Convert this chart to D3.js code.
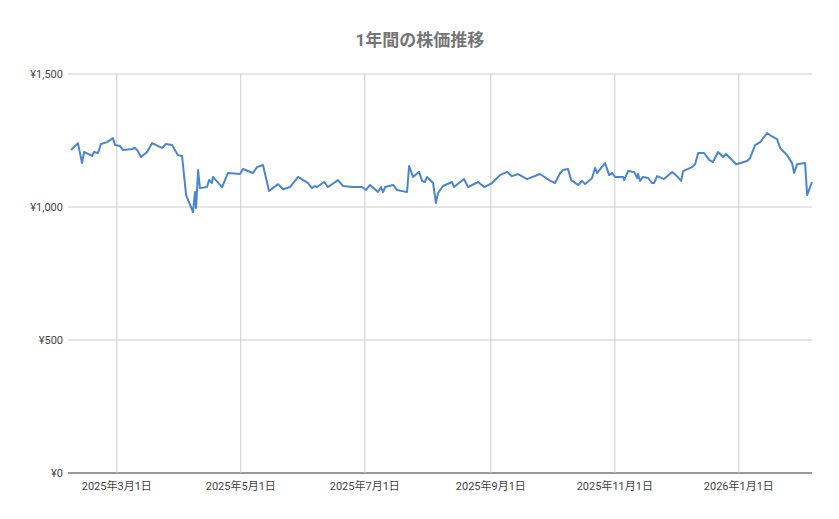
<!DOCTYPE html>
<html>
<head>
<meta charset="utf-8">
<script src="https://cdn.jsdelivr.net/npm/d3@7"></script>
<style>
  body { margin: 0; background: #fff; }
  text { font-family: Roboto, "Noto Sans CJK JP", sans-serif; }
</style>
</head>
<body>
<svg id="chart" width="839" height="519"></svg>
<script>
// days since 2025-02-05
var dayOffsets = [1.5, 4.9, 6.9, 7.9, 11.8, 12.8, 14.8, 16.2, 19.2, 22.1, 23.1, 25.6, 27.1, 31.5, 33, 34.4, 35.9, 38.9, 41.3, 46.2,
    48.2, 51.2, 54.1, 56.1, 58.1, 61.5, 62.5, 63, 64, 64.9, 68.4, 69.4, 70.8, 71.3, 75.8, 78.7, 84.6, 86.1, 91, 93,
    95.9, 98.9, 103.3, 105.8, 109.2, 113.2, 118.1, 120, 121.5, 122.5, 126, 127.9, 132.8, 135.3, 140.2, 144.6, 146.6, 148.6, 152.5, 154,
    155, 156, 159.9, 161.9, 166.8, 167.8, 169.7, 172.7, 174.2, 175.6, 176.6, 179.6, 181, 182, 184.5, 188.9, 189.9, 194.8, 196.8, 201.7,
    204.7, 208.6, 212.5, 216, 218.4, 221.4, 225.8, 232.2, 236.7, 239.6, 242.1, 243.5, 246, 247.5, 250.9, 252.9, 254.4, 257.8, 259.3, 260.3,
    264.2, 266.2, 267.6, 269.1, 273.1, 273.6, 275.5, 278.5, 280, 280.4, 281.4, 282.9, 285.4, 287.3, 288.3, 289.8, 293.2, 297.2, 299.6, 301.6,
    302.6, 307, 308.5, 310, 312.9, 315.4, 317.3, 319.8, 322.3, 323.7, 328.7, 334.1, 335.5, 338, 340.5, 343.9, 345.9, 348.8, 350.3, 353.7,
    356.2, 357.2, 358.7, 362.6, 363.6, 366];
var prices = [1214, 1240, 1165, 1207, 1192, 1207, 1203, 1237, 1244, 1259, 1233, 1229, 1214, 1218, 1222, 1210, 1188, 1207, 1240, 1222,
    1237, 1233, 1195, 1192, 1045, 981, 1056, 996, 1139, 1071, 1075, 1101, 1090, 1113, 1075, 1128, 1124, 1143, 1128, 1150,
    1158, 1060, 1086, 1067, 1075, 1113, 1090, 1071, 1079, 1075, 1094, 1075, 1101, 1079, 1075, 1075, 1064, 1083, 1056, 1075,
    1056, 1075, 1083, 1064, 1056, 1154, 1113, 1132, 1098, 1094, 1113, 1090, 1015, 1052, 1079, 1094, 1075, 1105, 1075, 1094,
    1075, 1090, 1120, 1132, 1116, 1124, 1105, 1124, 1101, 1090, 1128, 1139, 1143, 1101, 1083, 1098, 1086, 1109, 1147, 1128,
    1165, 1120, 1128, 1113, 1113, 1101, 1135, 1132, 1109, 1124, 1098, 1113, 1109, 1090, 1090, 1116, 1105, 1132, 1116, 1098,
    1135, 1150, 1161, 1203, 1203, 1177, 1169, 1207, 1188, 1199, 1161, 1173, 1184, 1233, 1244, 1278, 1267, 1255, 1222, 1195,
    1165, 1128, 1161, 1165, 1045, 1094];
var yTicks = [0, 500, 1000, 1500];
var xTickDates = ["2025-03-01", "2025-05-01", "2025-07-01", "2025-09-01", "2025-11-01", "2026-01-01"];
var chartTitle = "1年間の株価推移";

var startDate = new Date(2025, 1, 5);
var data = dayOffsets.map(function(d, i) {
    return { date: d3.timeDay.offset(startDate, 0) .getTime() + d * 864e5, value: prices[i] };
});

var svg = d3.select("#chart");
var margin = { left: 68, right: 812, top: 74, bottom: 473 };

var x = d3.scaleTime()
    .domain([startDate, d3.timeDay.offset(startDate, 366)])
    .range([margin.left, margin.right]);
var y = d3.scaleLinear().domain([0, 1500]).range([margin.bottom, margin.top]);

svg.append("text")
    .attr("x", 420).attr("y", 46)
    .attr("text-anchor", "middle")
    .attr("font-size", 17).attr("font-weight", "bold")
    .attr("fill", "#757575")
    .text(chartTitle);

var xTicks = xTickDates.map(function(s) { return d3.timeParse("%Y-%m-%d")(s); });

// grid
svg.append("g").selectAll("line").data(yTicks).enter().append("line")
    .attr("x1", margin.left).attr("x2", margin.right)
    .attr("y1", function(d) { return y(d); }).attr("y2", function(d) { return y(d); })
    .attr("stroke", function(d) { return d === 0 ? "#333" : "#cccccc"; })
    .attr("stroke-width", 1);
svg.append("g").selectAll("line").data(xTicks).enter().append("line")
    .attr("x1", function(d) { return x(d); }).attr("x2", function(d) { return x(d); })
    .attr("y1", margin.top).attr("y2", margin.bottom)
    .attr("stroke", "#cccccc");

// axis labels
svg.append("g").selectAll("text").data(yTicks).enter().append("text")
    .attr("x", 63).attr("y", function(d) { return y(d) + 4; })
    .attr("text-anchor", "end").attr("font-size", 11).attr("fill", "#444")
    .text(function(d) { return "¥" + d3.format(",")(d); });
svg.append("g").selectAll("text").data(xTicks).enter().append("text")
    .attr("x", function(d) { return x(d); }).attr("y", 490)
    .attr("text-anchor", "middle").attr("font-size", 11).attr("fill", "#444")
    .text(function(d) { return d3.timeFormat("%Y年%-m月%-d日")(d); });

svg.append("path")
    .datum(data)
    .attr("fill", "none")
    .attr("stroke", "#4a86d0")
    .attr("stroke-width", 2)
    .attr("stroke-linejoin", "round")
    .attr("d", d3.line().x(function(d) { return x(d.date); }).y(function(d) { return y(d.value); }));
</script>
</body>
</html>
